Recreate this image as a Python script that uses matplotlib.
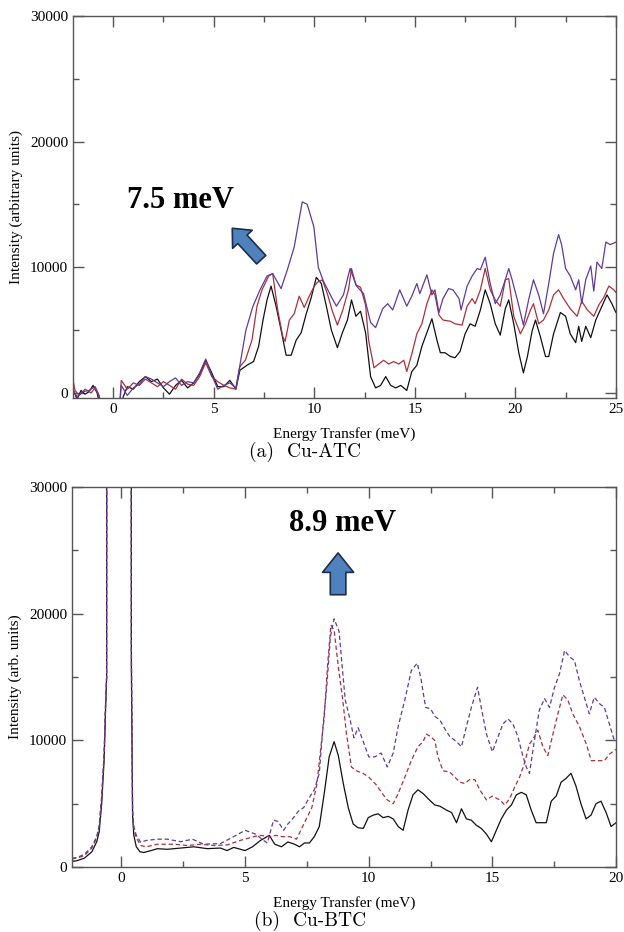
import matplotlib
matplotlib.use("Agg")
import matplotlib.pyplot as plt
import numpy as np
from matplotlib.ticker import MultipleLocator

# ---- (a) Cu-ATC, intensity in thousands ----
atc_black_x = [-2.0,-1.8,-1.6,-1.4,-1.2,-1.0,-0.8,-0.6,-0.3,0.0,0.3,0.5,0.7,1.0,1.3,1.6,1.9,2.2,2.5,2.8,
               3.1,3.4,3.7,4.0,4.3,4.6,4.9,5.2,5.5,5.8,6.1,6.3,6.65,6.98,7.23,7.45,7.65,7.85,8.1,8.35,
               8.6,8.85,9.1,9.35,9.6,9.85,10.1,10.35,10.6,10.85,11.15,11.4,11.65,11.85,12.07,12.3,12.55,12.8,13.05,13.3,
               13.55,13.8,14.05,14.3,14.6,14.85,15.1,15.35,15.6,15.85,16.1,16.27,16.5,16.77,17.0,17.25,17.5,17.75,18.0,18.26,
               18.5,18.75,19.0,19.25,19.5,19.67,19.92,20.17,20.4,20.6,20.83,21.0,21.24,21.5,21.66,21.9,22.24,22.5,22.73,23.0,
               23.15,23.3,23.5,23.75,24.0,24.25,24.56,24.8,25.0]
atc_black_y = [0.3,-0.5,0.2,-0.1,0.1,0.6,0.0,-1.5,-3,-3,-1.5,-0.3,0.5,0.3,0.9,1.3,0.9,1.1,0.4,-0.1,
               0.6,1.0,0.4,0.8,1.5,2.6,1.6,0.5,0.5,1.0,0.3,1.8,2.2,2.5,3.7,5.8,7.4,8.5,6.9,5.0,
               3.0,3.0,4.2,4.8,6.3,7.6,9.2,8.7,6.9,5.0,3.6,4.8,5.8,7.4,6.1,6.5,4.8,1.3,0.4,0.6,
               1.3,0.6,0.4,0.6,0.2,1.7,2.2,3.7,4.8,5.9,4.2,3.2,3.2,2.9,2.8,3.3,4.7,5.5,5.3,6.6,
               8.2,7.1,5.5,4.6,6.7,7.4,5.5,3.2,1.6,2.9,4.9,5.8,4.5,2.9,2.9,4.7,6.4,6.1,4.7,4.0,
               5.3,4.1,5.3,4.4,5.8,6.7,7.8,7.1,6.4]

atc_red_x = [-2.0,-1.9,-1.7,-1.4,-1.1,-0.9,-0.7,-0.5,0.0,0.3,0.4,0.7,1.0,1.3,1.6,1.9,2.2,2.5,2.8,3.1,
             3.4,3.7,4.0,4.3,4.6,4.9,5.2,5.5,5.8,6.1,6.3,6.57,6.9,7.15,7.4,7.73,7.93,8.18,8.43,8.55,
             8.76,9.0,9.25,9.5,9.75,10.0,10.15,10.4,10.65,10.9,11.15,11.4,11.7,11.85,12.07,12.3,12.55,12.7,12.97,13.2,
             13.45,13.7,13.95,14.2,14.45,14.6,14.85,15.1,15.35,15.6,15.85,16.0,16.2,16.4,16.77,17.0,17.35,17.6,17.85,18.0,
             18.26,18.5,18.75,19.0,19.25,19.5,19.67,19.92,20.25,20.5,20.75,20.9,21.16,21.4,21.66,21.9,22.15,22.4,22.73,23.07,
             23.3,23.58,23.9,24.15,24.4,24.65,24.9,25.0]
atc_red_y = [1.0,0.2,-0.2,0.3,0.0,0.4,-0.3,-2,-3,-1.5,1.0,0.3,0.8,0.6,1.1,0.8,0.5,0.9,0.6,0.3,
             1.1,0.7,0.6,1.3,2.4,1.3,0.9,0.6,0.4,0.3,2.1,2.6,4.2,6.9,8.2,9.3,9.5,6.6,4.5,4.1,
             5.8,6.3,7.7,6.8,7.7,8.5,8.8,9.0,7.9,6.5,5.4,6.5,8.2,9.9,8.6,8.4,7.0,4.2,2.0,2.3,
             2.6,2.3,2.5,2.3,2.6,1.7,3.1,4.7,5.5,7.1,8.2,7.8,6.2,5.8,5.7,5.5,5.4,6.9,7.5,7.1,
             8.2,9.9,8.2,7.4,6.9,9.0,9.1,6.1,4.7,5.5,6.6,7.1,5.5,5.8,6.6,7.8,8.2,7.5,6.7,6.1,
             7.3,6.6,6.1,7.0,7.6,8.5,8.2,8.0]

atc_purple_x = [-2.0,-1.8,-1.5,-1.2,-0.9,-0.7,-0.5,0.0,0.3,0.4,0.7,1.0,1.3,1.6,1.9,2.2,2.5,2.8,3.1,3.4,
                3.7,4.0,4.3,4.6,4.9,5.2,5.5,5.8,6.1,6.3,6.6,6.95,7.3,7.65,7.93,8.35,8.68,9.0,9.4,9.65,
                9.98,10.2,10.45,10.8,11.1,11.45,11.78,12.1,12.45,12.8,13.05,13.4,13.65,13.9,14.25,14.6,14.85,15.1,15.25,15.6,
                15.85,16.0,16.2,16.4,16.68,16.9,17.2,17.3,17.6,17.85,18.1,18.26,18.5,18.75,19.0,19.25,19.5,19.67,19.84,20.1,
                20.4,20.66,20.9,21.16,21.4,21.66,21.9,22.15,22.3,22.5,22.73,23.0,23.15,23.3,23.5,23.75,23.9,24.06,24.3,24.5,
                24.72,25.0]
atc_purple_y = [0.2,-0.3,0.1,0.2,0.5,-0.2,-2,-3,-1.5,0.6,-0.2,0.4,0.7,1.3,1.1,0.8,0.5,0.9,1.2,0.6,
                0.9,0.8,1.6,2.7,1.4,0.3,0.6,0.8,0.4,2.2,5.0,6.9,8.2,9.3,9.5,8.3,9.9,11.6,15.2,15.0,
                13.2,10.0,8.9,7.8,6.9,7.8,9.9,8.5,7.9,5.6,5.2,6.7,7.1,6.6,8.2,6.9,7.7,8.7,7.9,9.4,
                7.8,8.2,6.4,7.5,8.3,8.2,7.5,6.6,8.5,9.3,9.9,9.8,10.8,8.7,7.1,7.8,9.0,9.9,9.0,7.4,
                5.4,7.4,9.0,7.8,6.3,8.7,11.1,12.6,11.8,9.9,9.3,8.2,9.0,7.1,9.0,10.1,8.1,10.4,9.9,12.0,
                11.8,12.0]

# ---- (b) Cu-BTC, intensity in thousands (elastic peak runs off scale) ----
btc_black_x = [-2.0,-1.8,-1.5,-1.2,-1.0,-0.9,-0.8,-0.7,-0.65,-0.6,-0.55,0.35,0.4,0.45,0.5,0.6,0.75,0.9,1.2,1.45,
               1.85,2.4,2.93,3.47,4.0,4.27,4.54,5.0,5.3,5.62,5.98,6.2,6.47,6.73,7.0,7.2,7.4,7.6,7.8,8.0,
               8.2,8.4,8.6,8.77,8.97,9.17,9.37,9.57,9.78,9.98,10.18,10.38,10.58,10.79,10.99,11.19,11.39,11.59,11.79,11.99,
               12.2,12.4,12.67,12.88,13.14,13.35,13.55,13.75,13.95,14.15,14.35,14.55,14.76,14.96,15.16,15.36,15.57,15.77,15.97,16.17,
               16.37,16.57,16.77,16.98,17.18,17.38,17.58,17.78,17.98,18.18,18.38,18.58,18.79,18.99,19.19,19.39,19.6,19.8,20.0]
btc_black_y = [0.45,0.5,0.7,1.2,2.0,2.8,5.0,8.5,12.0,15.0,300,300,16,4.0,2.5,1.6,1.2,1.15,1.3,1.45,
               1.4,1.5,1.6,1.45,1.5,1.3,1.55,1.3,1.6,2.1,2.5,1.8,1.6,1.98,1.8,1.6,1.9,1.9,2.4,3.2,
               5.8,8.7,9.9,8.8,6.6,4.7,3.4,3.1,3.05,3.9,4.1,4.2,3.9,4.0,3.8,3.2,2.9,4.5,5.7,6.1,
               5.8,5.4,4.9,4.8,4.5,4.3,3.5,4.6,3.8,3.7,3.3,3.05,2.6,2.0,2.9,3.8,4.5,4.9,5.7,5.9,
               5.7,4.5,3.5,3.5,3.5,5.2,5.6,6.7,7.0,7.4,6.4,5.0,3.8,4.1,5.0,5.2,4.3,3.2,3.5]

btc_red_x = [-2.0,-1.8,-1.5,-1.2,-1.0,-0.9,-0.8,-0.7,-0.65,-0.6,-0.55,0.35,0.4,0.45,0.5,0.6,0.78,1.0,1.45,2.13,
             2.67,3.2,3.74,4.27,4.8,5.35,5.62,5.98,6.25,6.5,6.8,7.08,7.25,7.45,7.7,7.9,8.05,8.2,8.33,8.47,
             8.6,8.77,8.95,9.1,9.3,9.5,9.77,10.0,10.3,10.55,10.75,10.99,11.19,11.46,11.72,11.99,12.2,12.33,12.5,12.67,
             12.8,13.0,13.28,13.48,13.68,13.88,14.08,14.29,14.49,14.76,15.0,15.3,15.5,15.7,15.9,16.1,16.3,16.5,16.7,16.84,
             17.04,17.24,17.45,17.65,17.85,18.05,18.25,18.52,18.8,19.0,19.26,19.53,19.73,20.0]
btc_red_y = [0.65,0.7,0.9,1.5,2.3,3.2,5.5,9.0,12.5,15.0,300,300,17.4,4.2,3.0,2.3,1.7,1.6,1.8,1.8,
             1.7,1.8,1.7,1.75,2.1,2.4,2.5,2.4,2.5,2.4,2.4,2.2,2.9,3.7,4.7,6.5,9.2,11.8,15.8,19.1,
             18.7,15.8,13.2,10.5,7.9,7.6,7.4,7.1,6.5,5.8,5.3,5.0,5.8,7.1,8.4,9.5,9.9,10.5,10.3,10.0,
             8.7,7.6,7.5,7.1,6.7,6.6,6.9,6.9,6.1,5.3,5.6,5.3,4.9,5.4,6.3,7.1,8.2,9.7,10.3,10.8,
             9.5,8.8,10.5,12.1,13.6,13.2,12.1,11.1,9.7,8.4,8.4,8.4,8.9,9.3]

btc_purple_x = [-2.0,-1.8,-1.5,-1.2,-1.0,-0.9,-0.8,-0.7,-0.65,-0.6,-0.55,0.35,0.4,0.45,0.5,0.6,0.78,1.0,1.45,1.85,
                2.4,2.87,3.33,4.0,4.54,5.0,5.42,5.75,5.9,6.15,6.33,6.56,6.73,6.96,7.15,7.37,7.6,7.8,8.0,8.15,
                8.3,8.45,8.6,8.8,8.95,9.05,9.25,9.4,9.57,9.8,10.0,10.25,10.5,10.75,10.99,11.19,11.46,11.72,11.96,12.1,
                12.3,12.5,12.67,12.88,13.08,13.28,13.55,13.75,13.95,14.15,14.4,14.55,14.76,15.0,15.23,15.43,15.63,15.83,16.03,16.24,
                16.37,16.5,16.7,16.9,17.11,17.31,17.5,17.72,17.92,18.12,18.32,18.52,18.72,18.92,19.12,19.33,19.53,19.73,19.93,20.0]
btc_purple_y = [0.7,0.75,1.0,1.6,2.4,3.3,5.6,9.0,12.5,15.0,300,300,17.4,4.5,3.2,2.5,1.95,2.1,2.2,2.2,
                2.0,2.2,1.8,1.85,2.4,2.9,2.6,2.1,1.9,3.7,3.6,2.9,3.4,3.9,4.4,4.7,5.5,6.1,7.4,11.1,
                14.2,18.2,19.6,18.6,15.3,13.2,11.6,10.2,11.0,9.8,8.7,8.7,9.0,7.9,9.0,11.1,13.2,15.5,16.1,15.0,
                12.6,12.5,11.9,11.6,10.9,10.3,9.9,9.5,11.1,12.6,14.2,12.6,10.5,9.1,10.3,11.3,11.7,11.3,10.3,8.7,
                7.9,7.4,10.0,12.4,13.3,12.6,14.1,15.3,17.1,16.6,16.3,14.7,13.4,12.1,13.4,12.9,12.6,11.3,10.0,10.0]

serif = ["Liberation Serif", "DejaVu Serif"]
plt.rcParams["font.family"] = serif

black = "#111111"
red = "#a8323c"
purple = "#5e3c99"
arrow_fc = "#4f81bd"
arrow_ec = "#1c2f4a"

fig = plt.figure(figsize=(6.24, 9.32), dpi=100)
ax1 = fig.add_axes([0.117, 0.573, 0.870, 0.410])
ax2 = fig.add_axes([0.1154, 0.0697, 0.8718, 0.4077])


def style(ax, xmax, ylow, ylabel):
    ax.set_xlim(-2, xmax)
    ax.set_ylim(ylow, 30000)
    ax.xaxis.set_major_locator(MultipleLocator(5))
    ax.xaxis.set_minor_locator(MultipleLocator(2.5))
    ax.yaxis.set_major_locator(MultipleLocator(10000))
    ax.yaxis.set_minor_locator(MultipleLocator(5000))
    ax.tick_params(which="both", direction="in", top=True, right=True,
                   color="#555555", labelsize=11, pad=3.5)
    ax.tick_params(which="major", length=8, width=1)
    ax.tick_params(which="minor", length=4.5, width=1)
    for s in ax.spines.values():
        s.set_color("#555555")
        s.set_linewidth(1.0)
    ax.set_xlabel("Energy Transfer (meV)", fontsize=11)
    ax.set_ylabel(ylabel, fontsize=11)
    ax.xaxis.set_label_coords(0.5, -0.076)
    ax.yaxis.set_label_coords(-0.092, 0.5)


def k(v):
    return np.array(v) * 1000.0


ax1.plot(atc_black_x, k(atc_black_y), color=black, lw=0.9)
ax1.plot(atc_red_x, k(atc_red_y), color=red, lw=0.9)
ax1.plot(atc_purple_x, k(atc_purple_y), color=purple, lw=0.9)
style(ax1, 25, -400, "Intensity (arbitrary units)")
ax1.text(3.33, 14700, "7.5 meV", fontsize=22, fontweight="bold", ha="center", va="baseline")
ax1.annotate("", xy=(5.92, 13100), xytext=(7.36, 10600),
             arrowprops=dict(arrowstyle="simple,head_length=0.9,head_width=1.6,tail_width=0.75",
                             fc=arrow_fc, ec=arrow_ec, lw=1.2, mutation_scale=12,
                             shrinkA=0, shrinkB=0))

dash = (0, (3.5, 2.2))
ax2.plot(btc_black_x, k(btc_black_y), color=black, lw=0.9)
ax2.plot(btc_red_x, k(btc_red_y), color=red, lw=0.9, linestyle=dash)
ax2.plot(btc_purple_x, k(btc_purple_y), color=purple, lw=0.9, linestyle=dash)
style(ax2, 20, 0, "Intensity (arb. units)")
ax2.text(8.94, 26500, "8.9 meV", fontsize=22, fontweight="bold", ha="center", va="baseline")
ax2.annotate("", xy=(8.76, 24800), xytext=(8.76, 21500),
             arrowprops=dict(arrowstyle="simple,head_length=1.0,head_width=1.6,tail_width=0.8",
                             fc=arrow_fc, ec=arrow_ec, lw=1.2, mutation_scale=14,
                             shrinkA=0, shrinkB=0))

cap_font = ["cmr10", "DejaVu Serif"]
fig.text(0.489, 1 - 452 / 932, "(a)  Cu-ATC", family=cap_font, fontsize=14, ha="center", va="center")
fig.text(0.497, 1 - 921 / 932, "(b)  Cu-BTC", family=cap_font, fontsize=14, ha="center", va="center")

fig.savefig("out.png", dpi=100)
